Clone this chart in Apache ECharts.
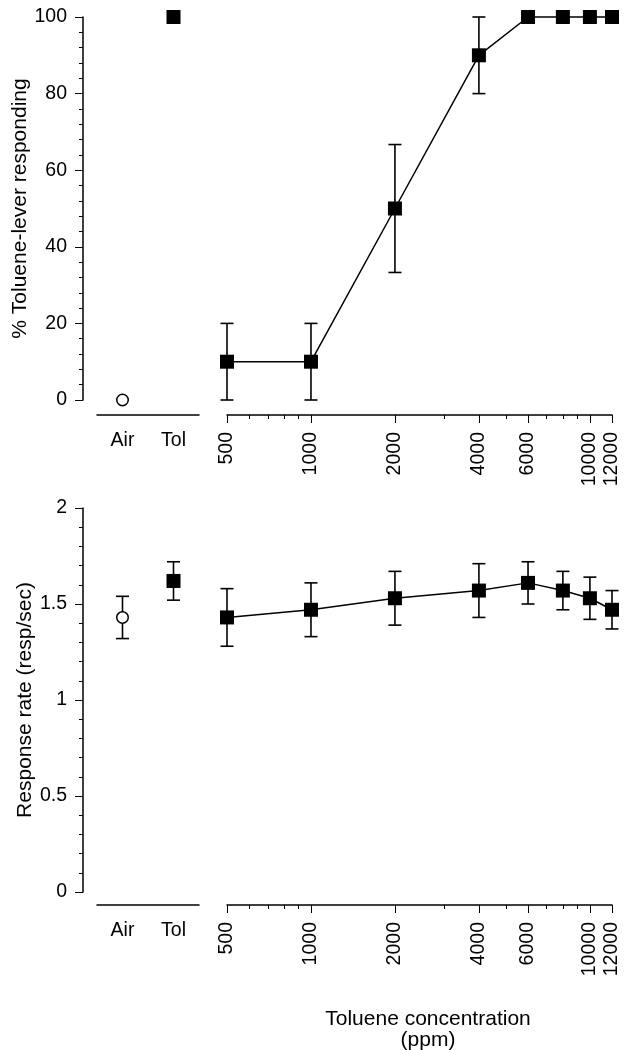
<!DOCTYPE html>
<html><head><meta charset="utf-8">
<script src="https://cdn.jsdelivr.net/npm/echarts@6/dist/echarts.min.js"></script>
<style>html,body{margin:0;padding:0;background:#fff}#c{width:630px;height:1050px}</style>
</head><body><div id="c"></div>
<script>
// ---- data ----
const controlCats = ['Air', 'Tol'];
const concentrations = [500, 1000, 2000, 4000, 6000, 8000, 10000, 12000];
const majorTickValues = [500, 1000, 2000, 4000, 6000, 10000, 12000];
const minorTickValues = [600, 700, 800, 900, 3000, 5000, 7000, 8000, 9000];
// top panel: % toluene-lever responding
const pctControl = [0, 100];
const pctControlErr = [0, 0];
const pctValues = [10, 10, 50, 90, 100, 100, 100, 100];
const pctErr = [10, 10, 16.7, 10, 0, 0, 0, 0];
// bottom panel: response rate
const rateControl = [1.43, 1.62];
const rateControlErr = [0.11, 0.10];
const rateValues = [1.43, 1.47, 1.53, 1.57, 1.61, 1.57, 1.53, 1.47];
const rateErr = [0.15, 0.14, 0.14, 0.14, 0.11, 0.10, 0.11, 0.10];

const FONT = 'Liberation Sans';
const TICK_FS = 19.5;
const NAME_FS = 21;
const LW = 1.6;

const chart = echarts.init(document.getElementById('c'));

const panels = [
  {top: 17, height: 383, min: 0, max: 100, interval: 20, name: '% Toluene-lever responding', nameGap: 48, xOffset: 15,
   ctrl: pctControl, ctrlErr: pctControlErr, vals: pctValues, errs: pctErr},
  {top: 508, height: 384, min: 0, max: 2, interval: 0.5, name: 'Response rate (resp/sec)', nameGap: 41, xOffset: 13,
   ctrl: rateControl, ctrlErr: rateControlErr, vals: rateValues, errs: rateErr}
];

const grid = [], xAxis = [], yAxis = [], series = [];
const axisLineStyle = {color: '#000', width: 1.5};
const labelStyle = {color: '#000', fontSize: TICK_FS, fontFamily: FONT};

function errRender(params, api) {
  const e = api.value(2);
  if (!e) return null;
  const x = api.value(0), y = api.value(1);
  const t = api.coord([x, y + e]);
  const b = api.coord([x, y - e]);
  const hw = 6.5;
  const st = {stroke: '#000', lineWidth: LW};
  return {type: 'group', children: [
    {type: 'line', shape: {x1: t[0], y1: t[1], x2: b[0], y2: b[1]}, style: st},
    {type: 'line', shape: {x1: t[0] - hw, y1: t[1], x2: t[0] + hw, y2: t[1]}, style: st},
    {type: 'line', shape: {x1: b[0] - hw, y1: b[1], x2: b[0] + hw, y2: b[1]}, style: st}
  ]};
}

panels.forEach((p, k) => {
  const g0 = grid.length;
  grid.push({left: 97, top: p.top, width: 102, height: p.height});
  grid.push({left: 227, top: p.top, width: 385, height: p.height});
  const xc = xAxis.length;
  xAxis.push({type: 'category', gridIndex: g0, position: 'bottom', data: controlCats, boundaryGap: true, offset: p.xOffset,
    axisLine: {onZero: false, lineStyle: axisLineStyle},
    axisTick: {alignWithLabel: true, length: 8, lineStyle: {color: '#000', width: 1}},
    axisLabel: Object.assign({margin: 16}, labelStyle), splitLine: {show: false}});
  const xl = xAxis.length;
  xAxis.push({type: 'log', gridIndex: g0 + 1, position: 'bottom', min: 500, max: 12000, offset: p.xOffset,
    axisLine: {onZero: false, lineStyle: axisLineStyle},
    axisTick: {customValues: majorTickValues, length: 8, lineStyle: {color: '#000', width: 1}},
    axisLabel: Object.assign({customValues: majorTickValues, rotate: 90, margin: 17,
      formatter: v => String(Math.round(v))}, labelStyle),
    splitLine: {show: false}, minorTick: {show: false}});
  xAxis.push({type: 'log', gridIndex: g0 + 1, position: 'bottom', min: 500, max: 12000, offset: p.xOffset,
    axisLine: {show: false, onZero: false},
    axisTick: {customValues: minorTickValues, length: 4, lineStyle: {color: '#000', width: 1}},
    axisLabel: {show: false}, splitLine: {show: false}});
  const yc = yAxis.length;
  yAxis.push({type: 'value', gridIndex: g0, min: p.min, max: p.max, interval: p.interval, offset: 14,
    name: p.name, nameLocation: 'middle', nameGap: p.nameGap,
    nameTextStyle: {color: '#000', fontSize: NAME_FS, fontFamily: FONT},
    axisLine: {show: true, onZero: false, lineStyle: axisLineStyle},
    axisTick: {show: true, length: 8, lineStyle: {color: '#000', width: 1}},
    minorTick: {show: true, splitNumber: 5, length: 4, lineStyle: {color: '#000', width: 1}},
    axisLabel: Object.assign({margin: 16}, labelStyle),
    splitLine: {show: false}, minorSplitLine: {show: false}});
  yAxis.push({type: 'value', gridIndex: g0 + 1, min: p.min, max: p.max, interval: p.interval, show: false});

  // error bars
  series.push({type: 'custom', xAxisIndex: xc, yAxisIndex: yc, z: 2, clip: false,
    renderItem: errRender, data: controlCats.map((c, i) => [i, p.ctrl[i], p.ctrlErr[i]])});
  series.push({type: 'custom', xAxisIndex: xl, yAxisIndex: yc + 1, z: 2, clip: false,
    renderItem: errRender, data: concentrations.map((c, i) => [c, p.vals[i], p.errs[i]])});
  // control markers
  series.push({type: 'scatter', xAxisIndex: xc, yAxisIndex: yc, z: 5, clip: false,
    data: [
      {value: [controlCats[0], p.ctrl[0]], symbol: 'circle', symbolSize: 11.5,
        itemStyle: {color: '#fff', borderColor: '#000', borderWidth: 1.5, opacity: 1}},
      {value: [controlCats[1], p.ctrl[1]], symbol: 'rect', symbolSize: 14, itemStyle: {color: '#000', opacity: 1}}
    ]});
  // dose-response line
  series.push({type: 'line', xAxisIndex: xl, yAxisIndex: yc + 1, z: 4, clip: false,
    symbol: 'rect', symbolSize: 14, showAllSymbol: true,
    itemStyle: {color: '#000', opacity: 1}, lineStyle: {color: '#000', width: 1.5},
    data: concentrations.map((c, i) => [c, p.vals[i]])});
});

chart.setOption({
  animation: false,
  backgroundColor: '#fff',
  textStyle: {fontFamily: FONT},
  grid, xAxis, yAxis, series,
  graphic: [{type: 'text', x: 428, y: 1009,
    style: {text: 'Toluene concentration\n(ppm)', textAlign: 'center', fill: '#000',
      fontSize: NAME_FS, fontFamily: FONT, lineHeight: 21}}]
});
</script></body></html>
